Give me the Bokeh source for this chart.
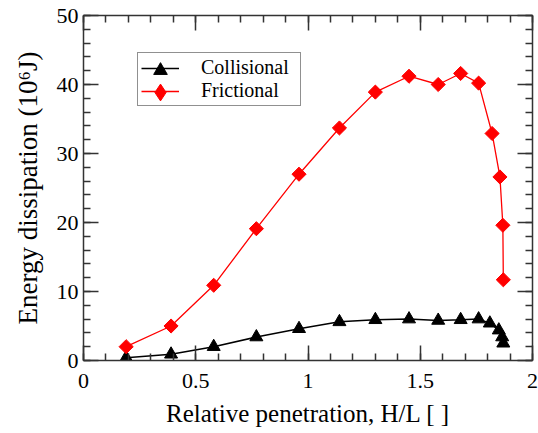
import math
from bokeh.plotting import figure
from bokeh.models import (Range1d, LinearAxis, SingleIntervalTicker, CustomJSTickFormatter,
                          Legend, LegendItem)
from bokeh.embed import file_html
from bokeh.resources import INLINE

# Data
coll_x = [0.19, 0.39, 0.58, 0.77, 0.96, 1.14, 1.30, 1.45, 1.58, 1.68, 1.76, 1.81, 1.85, 1.865, 1.87]
coll_y = [0.4, 0.9, 2.0, 3.4, 4.6, 5.6, 5.9, 6.0, 5.8, 5.9, 6.0, 5.4, 4.4, 3.4, 2.5]
fric_x = [0.19, 0.39, 0.58, 0.77, 0.96, 1.14, 1.30, 1.45, 1.58, 1.68, 1.76, 1.82, 1.855, 1.868, 1.87]
fric_y = [2.0, 5.0, 10.9, 19.1, 27.0, 33.7, 38.9, 41.2, 40.0, 41.6, 40.2, 32.9, 26.6, 19.6, 11.7]
x_label = "Relative penetration, H/L [ ]"
y_label = "Energy dissipation (10\u2076J)"
series_names = ["Collisional", "Frictional"]

FONT = "Liberation Serif"

p = figure(width=538, height=433, output_backend="svg", toolbar_location=None,
           x_range=Range1d(0, 2), y_range=Range1d(0, 50),
           min_border_left=83, min_border_right=6, min_border_top=15, min_border_bottom=73,
           x_axis_label=x_label, y_axis_label=y_label)
p.outline_line_color = None
p.xgrid.visible = False
p.ygrid.visible = False
p.background_fill_color = "white"
p.border_fill_color = "white"

fmt = CustomJSTickFormatter(code="return (Math.round(tick*10)/10).toString();")
blank = CustomJSTickFormatter(code="return '';")

def style_axis(ax, ticker, formatter, labels=True):
    ax.ticker = ticker
    ax.formatter = formatter
    ax.axis_line_color = "#333333"
    ax.axis_line_width = 1.5
    ax.major_tick_line_color = "#333333"
    ax.major_tick_line_width = 1.5
    ax.minor_tick_line_color = "#333333"
    ax.minor_tick_line_width = 1.5
    ax.major_tick_in = 15
    ax.major_tick_out = 0
    ax.minor_tick_in = 7
    ax.minor_tick_out = 0
    ax.major_label_text_font = FONT
    ax.major_label_text_font_size = "22px"
    ax.major_label_text_color = "black"
    ax.axis_label_text_font = FONT
    ax.axis_label_text_font_size = "25px"
    ax.axis_label_text_font_style = "normal"
    ax.axis_label_text_color = "black"
    if not labels:
        ax.major_label_standoff = 0
        ax.axis_label = None

xt = lambda: SingleIntervalTicker(interval=0.5, num_minor_ticks=5)
yt = lambda: SingleIntervalTicker(interval=10, num_minor_ticks=5)

style_axis(p.xaxis[0], xt(), fmt)
style_axis(p.yaxis[0], yt(), fmt)
p.xaxis[0].major_label_standoff = 13
p.xaxis[0].axis_label_standoff = 9
p.yaxis[0].major_label_standoff = 5
p.yaxis[0].axis_label_standoff = 11
p.yaxis[0].axis_label_text_font_size = "27px"

top = LinearAxis()
right = LinearAxis()
style_axis(top, xt(), blank, labels=False)
style_axis(right, yt(), blank, labels=False)
p.add_layout(top, "above")
p.add_layout(right, "right")

l1 = p.line(coll_x, coll_y, line_color="black", line_width=1.5)
m1 = p.scatter(coll_x, coll_y, marker="triangle", size=13, fill_color="black", line_color="black")
l2 = p.line(fric_x, fric_y, line_color="red", line_width=1.3)
m2 = p.scatter(fric_x, fric_y, marker="square", angle=math.pi / 4, size=10,
               fill_color="red", line_color="red")
# diamond-shaped stand-in used only for the legend swatch (legend swatches are not rotated)
m2_leg = p.scatter(fric_x, fric_y, marker="diamond", size=14,
                   fill_color="red", line_color="red", visible=False)

def style_legend(lg):
    lg.click_policy = "none"
    lg.label_text_font = FONT
    lg.label_text_font_size = "20px"
    lg.label_text_color = "black"
    lg.margin = 0
    lg.spacing = 0

# boxed legend: labels and line swatches
legend = Legend(items=[LegendItem(label=series_names[0], renderers=[l1]),
                       LegendItem(label=series_names[1], renderers=[l2])],
                location=(54, 254))
style_legend(legend)
legend.border_line_color = "#222222"
legend.border_line_width = 1.2
legend.background_fill_color = "white"
legend.background_fill_alpha = 1.0
legend.padding = 3
legend.glyph_width = 38
legend.glyph_height = 22
legend.label_height = 22
legend.label_standoff = 22
legend.label_width = 96
p.add_layout(legend, "center")

# overlay legends carrying the larger marker swatches
def marker_legend(renderer, box, loc):
    lg = Legend(items=[LegendItem(label=" ", renderers=[renderer])], location=loc)
    style_legend(lg)
    lg.border_line_color = None
    lg.background_fill_alpha = 0
    lg.padding = 0
    lg.glyph_width = box
    lg.glyph_height = box
    lg.label_height = 10
    lg.label_standoff = 0
    lg.label_width = 0
    p.add_layout(lg, "center")

marker_legend(m1, 34, (60, 273))
marker_legend(m2_leg, 42, (56, 247))

open("out.html", "w").write(file_html(p, INLINE))
